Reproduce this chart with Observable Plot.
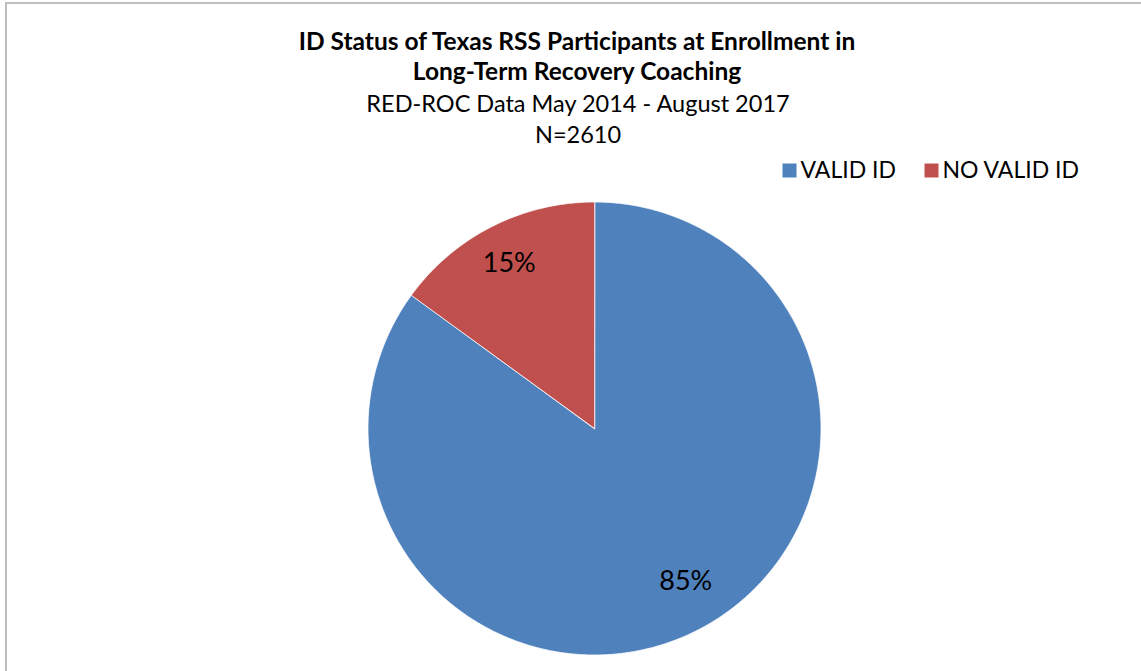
<!DOCTYPE html>
<html>
<head>
<meta charset="utf-8">
<script src="https://cdn.jsdelivr.net/npm/d3@7"></script>
<script src="https://cdn.jsdelivr.net/npm/@observablehq/plot@0.6"></script>
<style>
  html, body { margin: 0; padding: 0; background: #fff; }
  #wrap { position: relative; width: 1141px; height: 671px; overflow: hidden; }
  #border { position: absolute; left: 5px; top: 2px; right: -10px; bottom: -10px;
            border-left: 2px solid #bfbfbf; border-top: 2px solid #bfbfbf; pointer-events: none; }
  svg { font-family: Lato, "Open Sans", sans-serif; }
</style>
</head>
<body>
<div id="wrap"><div id="border"></div></div>
<script>
// ---- data ----
const categories = ["VALID ID", "NO VALID ID"];
const percents = [85, 15];
const colors = ["#4F81BD", "#C0504D"];
const titleLines = ["ID Status of Texas RSS Participants at Enrollment in", "Long-Term Recovery Coaching"];
const subtitleLines = ["RED-ROC Data May 2014 - August 2017", "N=2610"];

// ---- layout ----
const W = 1141, H = 671;
const cx = 594, cy = 428, R = 226.5, labelR = 0.8 * R;
const labelNudge = [[9, -9], [-3, -4]];
const font = "Lato, 'Open Sans', sans-serif";

const rows = categories.map((c, i) => ({category: c, value: percents[i]}));
const arcs = d3.pie().sort(null).value(d => d.value)(rows);

const slicePts = [];
for (const a of arcs) {
  slicePts.push({category: a.data.category, x: cx, y: cy});
  const n = Math.max(2, Math.ceil((a.endAngle - a.startAngle) / 0.005));
  for (let k = 0; k <= n; k++) {
    const t = a.startAngle + (a.endAngle - a.startAngle) * k / n;
    slicePts.push({category: a.data.category, x: cx + R * Math.sin(t), y: cy - R * Math.cos(t)});
  }
}
const labels = arcs.map((a, i) => {
  const m = (a.startAngle + a.endAngle) / 2;
  return {text: a.data.value + "%",
          x: cx + labelR * Math.sin(m) + labelNudge[i][0],
          y: cy - labelR * Math.cos(m) + labelNudge[i][1]};
});

const legendX = [782, 924];
const legend = categories.map((c, i) => ({category: c, x: legendX[i], y: 170}));

const plot = Plot.plot({
  width: W, height: H, margin: 0,
  x: {domain: [0, W], range: [0, W], axis: null},
  y: {domain: [0, H], range: [0, H], axis: null},
  color: {domain: categories, range: colors},
  style: {fontFamily: font, background: "transparent", overflow: "visible"},
  marks: [
    Plot.line(slicePts, {x: "x", y: "y", z: "category", fill: "category", stroke: "#fff", strokeWidth: 0.8, curve: "linear-closed"}),
    Plot.text(labels, {x: "x", y: "y", text: "text", fontSize: 27, fill: "#000"}),
    Plot.text([titleLines[0]], {text: d => d, frameAnchor: "top", lineAnchor: "middle", dx: 6, dy: 42, fontSize: 24.5, fontWeight: "bold", fill: "#000"}),
    Plot.text([titleLines[1]], {text: d => d, frameAnchor: "top", lineAnchor: "middle", dx: 6, dy: 72, fontSize: 24.5, fontWeight: "bold", fill: "#000"}),
    Plot.text([subtitleLines[0]], {text: d => d, frameAnchor: "top", lineAnchor: "middle", dx: 7, dy: 104, fontSize: 23.5, fill: "#000"}),
    Plot.text([subtitleLines[1]], {text: d => d, frameAnchor: "top", lineAnchor: "middle", dx: 7, dy: 135, fontSize: 23.5, fill: "#000"}),
    Plot.dot(legend, {x: d => d.x + 7, y: "y", symbol: "square", r: 7.9, fill: "category"}),
    Plot.text(legend, {x: d => d.x + 18, y: "y", text: "category", textAnchor: "start", fontSize: 23, fill: "#000"})
  ]
});
document.getElementById("wrap").prepend(plot);
</script>
</body>
</html>
